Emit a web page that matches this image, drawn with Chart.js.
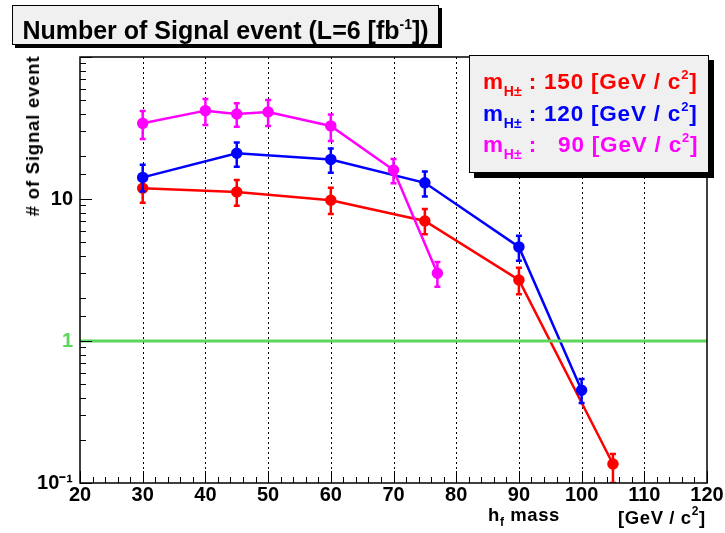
<!DOCTYPE html>
<html>
<head>
<meta charset="utf-8">
<script src="https://cdn.jsdelivr.net/npm/chart.js@4/dist/chart.umd.min.js"></script>
<style>
  body { margin: 0; background: #fff; font-family: "Liberation Sans", Arial, sans-serif; }
  #wrap { position: relative; width: 725px; height: 533px; }
  .box { position: absolute; background: #f0f0f0; border: 1px solid #000; font-weight: bold; }
  #title { left: 12px; top: 5px; width: 425px; height: 38px; box-shadow: 3px 3px 0 #000;
           font-size: 25px; line-height: 36px; text-align: center; }
  #title sup { font-size: 14px; vertical-align: 10px; }
  #legend { left: 469px; top: 55px; width: 238px; height: 116px; box-shadow: 5px 5px 0 #000;
            font-size: 22.5px; letter-spacing: 0.8px; }
  .row { position: absolute; left: 13px; white-space: pre; line-height: 26px; }
  .row sub { font-size: 14px; vertical-align: -7px; letter-spacing: 0; }
  .row sup { font-size: 13px; vertical-align: 10px; }
  #ytitle { position: absolute; left: 33px; top: 136px; transform: translate(-50%, -50%) rotate(-90deg);
            font-weight: bold; font-size: 18.5px; letter-spacing: 0.8px; white-space: nowrap; }
  .xt { position: absolute; top: 504px; font-weight: bold; font-size: 18.5px; letter-spacing: 0.6px; white-space: nowrap; }
  .xt sub { font-size: 12px; vertical-align: -5px; }
  .xt sup { font-size: 12px; vertical-align: 9px; }
</style>
</head>
<body>
<div id="wrap">
  <canvas id="c" width="725" height="533"></canvas>
  <div id="title" class="box">Number of Signal event (L=6 [fb<sup>-1</sup>])</div>
  <div id="legend" class="box">
    <div class="row" style="top:6px;color:#ff0000">m<sub>H±</sub> : 150 [GeV / c<sup>2</sup>]</div>
    <div class="row" style="top:38px;color:#0000ff">m<sub>H±</sub> : 120 [GeV / c<sup>2</sup>]</div>
    <div class="row" style="top:69px;color:#ff00ff">m<sub>H±</sub> :   90 [GeV / c<sup>2</sup>]</div>
  </div>
  <div id="ytitle"># of Signal event</div>
  <div class="xt" style="left:488px">h<sub>f</sub> mass</div>
  <div class="xt" style="left:618px">[GeV / c<sup>2</sup>]</div>
</div>
<script>
// m_H = 150
const massRed = [30, 45, 60, 75, 90, 105];
const sigRed  = [11.9, 11.2, 9.8, 7.0, 2.69, 0.136];
const loRed   = [9.4, 8.97, 7.84, 5.64, 2.13, 0.1];
const hiRed   = [14.3, 13.6, 12.0, 8.5, 3.28, 0.16];

// m_H = 120
const massBlue = [30, 45, 60, 75, 90, 100];
const sigBlue  = [14.2, 21.0, 19.0, 13.0, 4.6, 0.45];
const loBlue   = [11.3, 16.9, 15.3, 10.4, 3.67, 0.366];
const hiBlue   = [17.4, 25.0, 22.7, 15.6, 5.52, 0.54];

// m_H = 90
const massMag = [30, 40, 45, 50, 60, 70, 77];
const sigMag  = [34.1, 41.9, 39.7, 41.0, 32.7, 16.0, 3.0];
const loMag   = [26.5, 33.2, 32.3, 32.7, 25.6, 12.9, 2.41];
const hiMag   = [41.7, 50.6, 47.2, 49.8, 39.4, 19.1, 3.6];

// reference line at 1 event
const refX = [20, 120];
const refY = [1, 1];

const xMin = 20, xMax = 120;
const yMin = 0.1, yMax = 100;
const xGrid = [30, 40, 50, 60, 70, 80, 90, 100, 110];

function pts(xs, ys) { return xs.map((x, i) => ({ x: x, y: ys[i] })); }

function series(label, xs, ys, lo, hi, color) {
  return {
    label, data: pts(xs, ys), errLo: lo, errHi: hi,
    borderColor: color, backgroundColor: color,
    borderWidth: 2.5, pointRadius: 4.5, pointHoverRadius: 4.5, tension: 0
  };
}

const near = (a, b) => Math.abs(a - b) < 1e-9 * Math.max(1, b);

// error bars, drawn just before each dataset
const errorBars = {
  id: 'errorBars',
  beforeDatasetDraw(chart, args) {
    const ds = chart.data.datasets[args.index];
    if (!ds.errLo) return;
    const ctx = chart.ctx, ys = chart.scales.y, a = chart.chartArea;
    ctx.save();
    ctx.beginPath(); ctx.rect(a.left, a.top, a.right - a.left, a.bottom - a.top); ctx.clip();
    ctx.strokeStyle = ds.borderColor; ctx.lineWidth = 2.5;
    args.meta.data.forEach((p, j) => {
      const y1 = ys.getPixelForValue(ds.errHi[j]);
      const y2 = ys.getPixelForValue(ds.errLo[j]);
      ctx.beginPath();
      ctx.moveTo(p.x, y1); ctx.lineTo(p.x, y2);
      ctx.moveTo(p.x - 3, y1); ctx.lineTo(p.x + 3, y1);
      ctx.moveTo(p.x - 3, y2); ctx.lineTo(p.x + 3, y2);
      ctx.stroke();
    });
    ctx.restore();
  }
};

// frame, dotted grid and inward ticks in ROOT style
const frame = {
  id: 'frame',
  beforeDatasetsDraw(chart) {
    const ctx = chart.ctx, xs = chart.scales.x, a = chart.chartArea;
    ctx.save();
    ctx.strokeStyle = '#000'; ctx.lineWidth = 1; ctx.setLineDash([2, 3]);
    xGrid.forEach(v => {
      const x = Math.round(xs.getPixelForValue(v)) + 0.5;
      ctx.beginPath(); ctx.moveTo(x, a.top); ctx.lineTo(x, a.bottom); ctx.stroke();
    });
    ctx.restore();
  },
  afterDraw(chart) {
    const ctx = chart.ctx, xs = chart.scales.x, ys = chart.scales.y, a = chart.chartArea;
    ctx.save();
    ctx.strokeStyle = '#000'; ctx.lineWidth = 1.5;
    ctx.strokeRect(a.left, a.top, a.right - a.left, a.bottom - a.top);
    ctx.lineWidth = 1;
    ctx.beginPath();
    for (let v = xMin; v <= xMax; v += 2) {
      const x = Math.round(xs.getPixelForValue(v)) + 0.5;
      const len = v % 10 === 0 ? 12 : 6;
      ctx.moveTo(x, a.bottom); ctx.lineTo(x, a.bottom - len);
    }
    ys.ticks.forEach(t => {
      const y = Math.round(ys.getPixelForValue(t.value)) + 0.5;
      const lg = Math.log10(t.value);
      const len = Math.abs(lg - Math.round(lg)) < 1e-6 ? 12 : 6;
      ctx.moveTo(a.left, y); ctx.lineTo(a.left + len, y);
    });
    ctx.stroke();
    ctx.restore();
  }
};

new Chart(document.getElementById('c'), {
  type: 'line',
  data: {
    datasets: [
      { label: 'ref', data: pts(refX, refY), borderColor: '#5cd65c', borderWidth: 3,
        pointRadius: 0, pointHoverRadius: 0 },
      series('m_H = 90', massMag, sigMag, loMag, hiMag, '#ff00ff'),
      series('m_H = 120', massBlue, sigBlue, loBlue, hiBlue, '#0000ff'),
      series('m_H = 150', massRed, sigRed, loRed, hiRed, '#ff0000')
    ]
  },
  options: {
    responsive: false,
    animation: false,
    layout: { padding: { left: 0, right: 18, top: 57, bottom: 0 } },
    plugins: { legend: { display: false }, tooltip: { enabled: false } },
    scales: {
      x: {
        type: 'linear', min: xMin, max: xMax,
        grid: { display: false, drawTicks: false }, border: { display: false },
        afterFit(s) { s.height = 50; },
        ticks: { stepSize: 10, padding: 0, color: '#000',
                 font: { family: 'Liberation Sans', size: 20, weight: 'bold' } }
      },
      y: {
        type: 'logarithmic', min: yMin, max: yMax,
        grid: { display: false, drawTicks: false }, border: { display: false },
        afterFit(s) { s.width = 80; },
        ticks: {
          autoSkip: false, padding: 7,
          color: c => (c.tick && near(c.tick.value, 1)) ? '#5cd65c' : '#000',
          font: { family: 'Liberation Sans', size: 20, weight: 'bold' },
          callback: v => near(v, 10) ? '10' : near(v, 1) ? '1' : near(v, 0.1) ? '10⁻¹' : ''
        }
      }
    }
  },
  plugins: [errorBars, frame]
});
</script>
</body>
</html>
